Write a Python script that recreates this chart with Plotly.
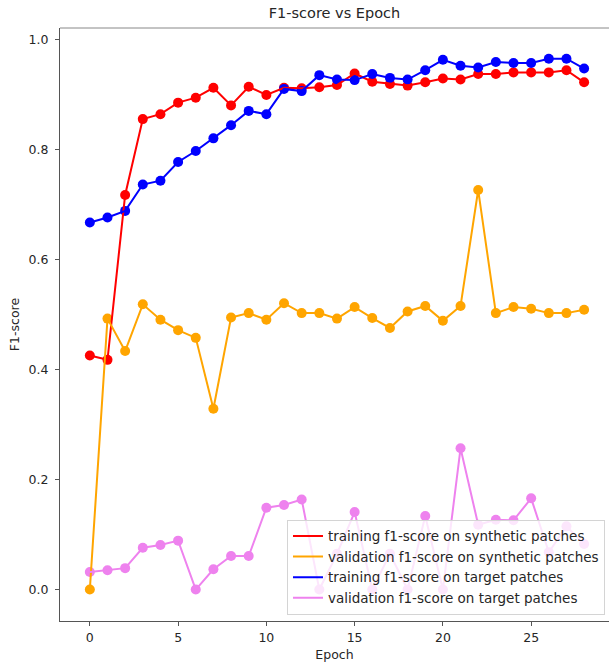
import plotly.graph_objects as go

# Per-epoch F1 scores
epochs = list(range(29))

train_synthetic = [0.426, 0.418, 0.718, 0.856, 0.865, 0.886, 0.895, 0.913, 0.881, 0.915,
                   0.900, 0.913, 0.912, 0.914, 0.918, 0.939, 0.924, 0.920, 0.917, 0.923,
                   0.930, 0.928, 0.938, 0.938, 0.941, 0.941, 0.941, 0.945, 0.923]

val_synthetic = [0.000, 0.493, 0.434, 0.519, 0.491, 0.472, 0.458, 0.329, 0.495, 0.503,
                 0.491, 0.521, 0.503, 0.503, 0.493, 0.514, 0.494, 0.476, 0.506, 0.516,
                 0.489, 0.516, 0.727, 0.503, 0.514, 0.511, 0.503, 0.503, 0.509]

train_target = [0.668, 0.677, 0.689, 0.737, 0.744, 0.778, 0.798, 0.821, 0.845, 0.871,
                0.865, 0.911, 0.907, 0.936, 0.928, 0.927, 0.938, 0.931, 0.928, 0.945,
                0.964, 0.953, 0.950, 0.960, 0.958, 0.958, 0.966, 0.966, 0.948]

val_target = [0.032, 0.035, 0.039, 0.076, 0.081, 0.089, 0.000, 0.037, 0.061, 0.061,
              0.149, 0.154, 0.164, 0.000, 0.065, 0.141, 0.000, 0.065, 0.000, 0.134,
              0.000, 0.257, 0.118, 0.127, 0.126, 0.166, 0.068, 0.115, 0.083]

series_names = [
    "training f1-score on synthetic patches",
    "validation f1-score on synthetic patches",
    "training f1-score on target patches",
    "validation f1-score on target patches",
]
series_values = [train_synthetic, val_synthetic, train_target, val_target]
series_colors = ["#ff0000", "#ffa500", "#0000ff", "#ee82ee"]

x_ticks = [0, 5, 10, 15, 20, 25]
y_ticks = [0.0, 0.2, 0.4, 0.6, 0.8, 1.0]

FONT = "DejaVu Sans"
TEXT = "#262626"

fig = go.Figure()

# markers sit underneath the connecting lines
for name, vals, col in zip(series_names, series_values, series_colors):
    fig.add_trace(go.Scatter(
        x=epochs, y=vals, mode="markers", showlegend=False,
        marker=dict(color=col, size=10, line=dict(width=0)),
        hoverinfo="skip",
    ))

for name, vals, col in zip(series_names, series_values, series_colors):
    fig.add_trace(go.Scatter(
        x=epochs, y=vals, mode="lines", name=name,
        line=dict(color=col, width=2),
    ))

fig.update_layout(
    width=609, height=666,
    margin=dict(l=59.5, r=0, t=28, b=45.3, pad=0),
    paper_bgcolor="white", plot_bgcolor="white",
    font=dict(family=FONT, size=12.5, color=TEXT),
    title=dict(text="F1-score vs Epoch", x=0.5, xref="paper", xanchor="center",
               y=1 - 13 / 666, yref="container", yanchor="middle",
               font=dict(family=FONT, size=14.5, color=TEXT)),
    showlegend=True,
    legend=dict(
        x=0.9927, y=0.0105, xanchor="right", yanchor="bottom",
        bgcolor="rgba(255,255,255,0.8)", bordercolor="#d4d4d4", borderwidth=1,
        font=dict(family=FONT, size=13.5, color=TEXT),
        itemwidth=30, tracegroupgap=0,
    ),
    xaxis=dict(
        range=[-1.69, 29.41], tickvals=x_ticks, ticktext=[str(v) for v in x_ticks],
        showgrid=False, zeroline=False,
        showline=True, linecolor="#555", linewidth=1, mirror=False,
        ticks="outside", ticklen=4, tickcolor="#555", ticklabelstandoff=1,
        tickfont=dict(family=FONT, size=12.5, color=TEXT),
        title=dict(text="Epoch", font=dict(family=FONT, size=12.5, color=TEXT), standoff=6),
    ),
    yaxis=dict(
        range=[-0.0572, 1.0218], tickvals=y_ticks, tickformat=".1f",
        showgrid=False, zeroline=False,
        showline=True, linecolor="#555", linewidth=1, mirror=False,
        ticks="outside", ticklen=4, tickcolor="#555", ticklabelstandoff=4,
        tickfont=dict(family=FONT, size=12.5, color=TEXT),
        title=dict(text="F1-score", font=dict(family=FONT, size=12.5, color=TEXT), standoff=6),
    ),
    shapes=[dict(type="line", xref="paper", yref="paper", x0=0, x1=1, y0=1, y1=1,
                 line=dict(color="#888", width=1))],
)

fig.write_html("out.html")
